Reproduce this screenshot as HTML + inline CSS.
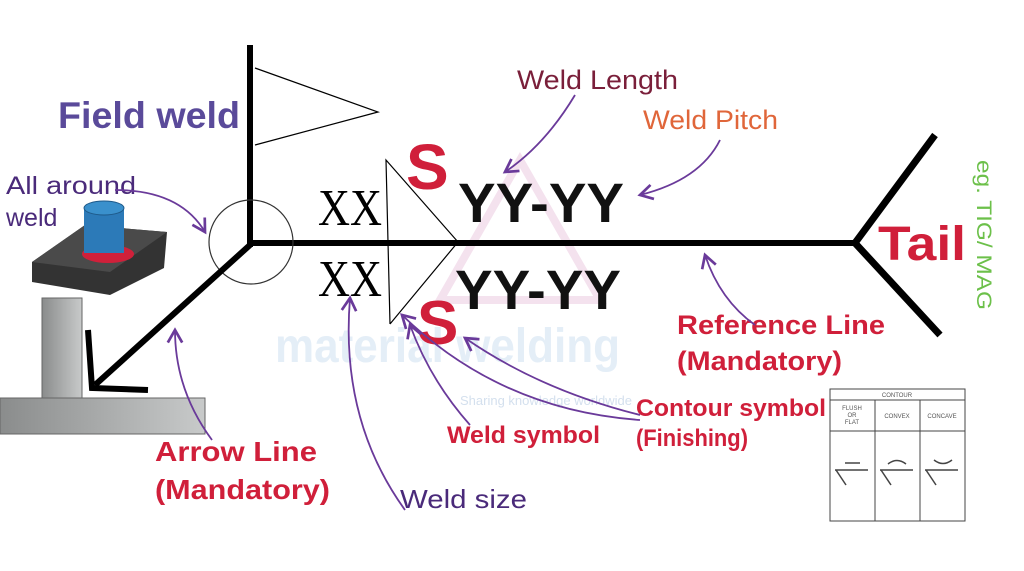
<!DOCTYPE html>
<html><head><meta charset="utf-8"><style>
body{margin:0;background:#fff;width:1024px;height:566px;overflow:hidden;font-family:"Liberation Sans",sans-serif}
</style></head><body>
<svg width="1024" height="566" viewBox="0 0 1024 566" xmlns="http://www.w3.org/2000/svg">
<defs>
<linearGradient id="g1" x1="0" x2="1"><stop offset="0" stop-color="#8a8c8c"/><stop offset="1" stop-color="#c8caca"/></linearGradient>
<marker id="ar" markerWidth="10" markerHeight="10" refX="8" refY="5" orient="auto"><path d="M1,1 L8,5 L1,9" fill="none" stroke="#6a3a9a" stroke-width="1.5"/></marker>
</defs>
<g lengthAdjust="spacingAndGlyphs">
<!-- watermark -->
<text x="275" y="362" font-size="48" font-weight="bold" fill="#e4eef7" textLength="345" lengthAdjust="spacingAndGlyphs">material welding</text>
<text x="460" y="405" font-size="13" fill="#d4e0ee">Sharing knowledge worldwide</text>
<path d="M440,300 L520,160 L600,300 Z" fill="none" stroke="#f4e2ee" stroke-width="8"/>
<!-- gray blocks -->
<rect x="42" y="298" width="40" height="102" fill="url(#g1)" stroke="#666"/>
<rect x="0" y="398" width="205" height="36" fill="url(#g1)" stroke="#666"/>
<!-- plate with tube -->
<polygon points="32,262 85,225 167,232 164,268 110,295 32,282" fill="#333"/>
<polygon points="32,262 110,272 167,232 85,225" fill="#4a4a4a"/>
<ellipse cx="108" cy="254" rx="26" ry="9" fill="#d0203a"/>
<rect x="84" y="208" width="40" height="45" fill="#2c7ab8"/>
<ellipse cx="104" cy="208" rx="20" ry="7" fill="#3a90cc" stroke="#1e5a8a"/>
<!-- main lines -->
<line x1="250" y1="45" x2="250" y2="247" stroke="#000" stroke-width="6"/>
<polyline points="255,68 378,112 255,145" fill="none" stroke="#000" stroke-width="1.2"/>
<line x1="248" y1="243" x2="855" y2="243" stroke="#000" stroke-width="6"/>
<circle cx="251" cy="242" r="42" fill="none" stroke="#333" stroke-width="1.2"/>
<line x1="250" y1="245" x2="95" y2="385" stroke="#000" stroke-width="6"/>
<polyline points="88,330 92,388 148,390" fill="none" stroke="#000" stroke-width="6"/>
<polyline points="935,135 855,243 940,335" fill="none" stroke="#000" stroke-width="7"/>
<!-- weld symbol -->
<polyline points="390,324 386,160 458,242 390,324" fill="none" stroke="#000" stroke-width="1.2"/>
<text x="318" y="225" font-family="Liberation Serif" font-size="52" fill="#000" textLength="64" lengthAdjust="spacingAndGlyphs">XX</text>
<text x="318" y="296" font-family="Liberation Serif" font-size="52" fill="#000" textLength="64" lengthAdjust="spacingAndGlyphs">XX</text>
<text x="406" y="189" font-size="64" font-weight="bold" fill="#d01f3a">S</text>
<text x="458" y="222" font-size="56" font-weight="bold" fill="#111" textLength="166" lengthAdjust="spacingAndGlyphs">YY-YY</text>
<text x="455" y="309" font-size="56" font-weight="bold" fill="#111" textLength="166" lengthAdjust="spacingAndGlyphs">YY-YY</text>
<text x="417" y="344" font-size="62" font-weight="bold" fill="#d01f3a">S</text>
<!-- labels -->
<text x="58" y="128" font-size="37" font-weight="bold" fill="#5a4a9a" textLength="182" lengthAdjust="spacingAndGlyphs">Field weld</text>
<text x="6" y="194" font-size="25" fill="#4a2a7a" textLength="130" lengthAdjust="spacingAndGlyphs">All around</text>
<text x="6" y="226" font-size="25" fill="#4a2a7a">weld</text>
<text x="517" y="89" font-size="27" fill="#7a1f3a" textLength="161" lengthAdjust="spacingAndGlyphs">Weld Length</text>
<text x="643" y="129" font-size="27" fill="#e0663a" textLength="135" lengthAdjust="spacingAndGlyphs">Weld Pitch</text>
<text x="878" y="260" font-size="48" font-weight="bold" fill="#d01f3a" textLength="88" lengthAdjust="spacingAndGlyphs">Tail</text>
<text transform="translate(977,160) rotate(90)" font-size="21" fill="#6cc04a" textLength="150" lengthAdjust="spacingAndGlyphs">eg. TIG/ MAG</text>
<text x="677" y="334" font-size="27" font-weight="bold" fill="#d01f3a" textLength="208" lengthAdjust="spacingAndGlyphs">Reference Line</text>
<text x="677" y="370" font-size="27" font-weight="bold" fill="#d01f3a" textLength="165" lengthAdjust="spacingAndGlyphs">(Mandatory)</text>
<text x="636" y="416" font-size="24" font-weight="bold" fill="#d01f3a" textLength="190" lengthAdjust="spacingAndGlyphs">Contour symbol</text>
<text x="636" y="446" font-size="24" font-weight="bold" fill="#d01f3a" textLength="112" lengthAdjust="spacingAndGlyphs">(Finishing)</text>
<text x="447" y="443" font-size="24" font-weight="bold" fill="#d01f3a" textLength="153" lengthAdjust="spacingAndGlyphs">Weld symbol</text>
<text x="155" y="461" font-size="28" font-weight="bold" fill="#d01f3a" textLength="162" lengthAdjust="spacingAndGlyphs">Arrow Line</text>
<text x="155" y="499" font-size="28" font-weight="bold" fill="#d01f3a" textLength="175" lengthAdjust="spacingAndGlyphs">(Mandatory)</text>
<text x="400" y="508" font-size="26" fill="#4a2a7a" textLength="127" lengthAdjust="spacingAndGlyphs">Weld size</text>
</g>
<!-- purple connectors -->
<g fill="none" stroke="#6a3a9a" stroke-width="1.8" marker-end="url(#ar)">
<path d="M575,95 Q545,145 505,172"/>
<path d="M720,140 Q700,180 640,195"/>
<path d="M115,190 Q180,190 205,232"/>
<path d="M212,440 Q175,390 175,330"/>
<path d="M755,325 Q720,300 705,255"/>
<path d="M640,415 Q540,390 465,338"/>
<path d="M640,420 Q500,410 402,315"/>
<path d="M470,425 Q430,380 410,325"/>
<path d="M405,510 Q340,420 350,298"/>
</g>
<!-- contour table -->
<g stroke="#444" stroke-width="1" fill="none">
<rect x="830" y="389" width="135" height="132"/>
<line x1="830" y1="400" x2="965" y2="400"/>
<line x1="830" y1="431" x2="965" y2="431"/>
<line x1="875" y1="400" x2="875" y2="521"/>
<line x1="920" y1="400" x2="920" y2="521"/>
<line x1="835" y1="470" x2="868" y2="470" stroke-width="1.5"/>
<line x1="845" y1="463" x2="860" y2="463" stroke-width="1.5"/>
<line x1="836" y1="470" x2="846" y2="485" stroke-width="1.5"/>
<line x1="880" y1="470" x2="913" y2="470" stroke-width="1.5"/>
<path d="M888,464 Q897,457 906,464" stroke-width="1.5"/>
<line x1="881" y1="470" x2="891" y2="485" stroke-width="1.5"/>
<line x1="925" y1="470" x2="958" y2="470" stroke-width="1.5"/>
<path d="M934,460 Q943,467 952,460" stroke-width="1.5"/>
<line x1="926" y1="470" x2="936" y2="485" stroke-width="1.5"/>
</g>
<g font-size="6" fill="#555" text-anchor="middle">
<text x="897" y="397">CONTOUR</text>
<text x="852" y="410">FLUSH</text><text x="852" y="417">OR</text><text x="852" y="424">FLAT</text>
<text x="897" y="418">CONVEX</text>
<text x="942" y="418">CONCAVE</text>
</g>
</svg>
</body></html>
